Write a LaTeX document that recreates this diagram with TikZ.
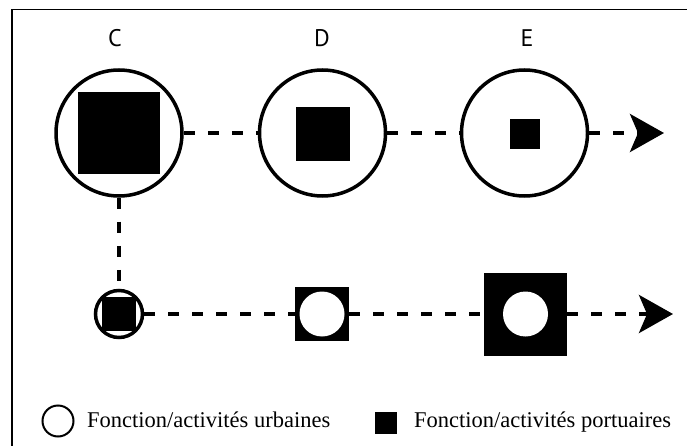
\documentclass[tikz,border=0pt]{standalone}
\usepackage{fontspec}
\setmainfont{Liberation Serif}
\newfontfamily\labfont{PT Sans}
\usetikzlibrary{arrows.meta}
\tikzset{
  bigcirc/.style={circle, draw, line width=3.5pt, minimum size=126pt, inner sep=0pt, fill=white},
  smallcirc/.style={circle, draw, line width=3.5pt, minimum size=47pt, inner sep=0pt},
  blk/.style={rectangle, fill=black, inner sep=0pt, minimum size=#1},
  whitedot/.style={circle, fill=white, inner sep=0pt, minimum size=45pt},
  link/.style={line width=4pt, dash pattern=on 11pt off 13pt},
  arrowlink/.style={link, -{Stealth[length=34pt, width=38pt, inset=8pt]}},
  letter/.style={font=\labfont\fontsize{24}{28}\selectfont, inner sep=0pt},
  legtext/.style={font=\fontsize{22.5}{26}\selectfont, inner sep=0pt, anchor=base west},
}
\begin{document}
\begin{tikzpicture}[x=1pt, y=-1pt]
\useasboundingbox (0,0) rectangle (687,446);
\draw[line width=1.5pt] (12,446) -- (12,9.5) -- (687,9.5);
% labels
\node[letter] (lc) at (115,38) {C};
\node[letter] (ld) at (322,38) {D};
\node[letter] (le) at (527,38) {E};
% top row
\node[bigcirc] (c1) at (119,133) {};
\node[blk=82pt] (s1) at (119,133) {};
\node[bigcirc] (d1) at (322.5,133) {};
\node[blk=54pt] (s2) at (322.5,134) {};
\node[bigcirc] (e1) at (524.5,133) {};
\node[blk=30pt] (s3) at (524.5,134) {};
\coordinate (t1) at (664,133);
\draw[link] (c1) -- (d1);
\draw[link] (d1) -- (e1);
\draw[arrowlink] (e1) -- (t1);
% bottom row
\node[blk=34pt] (s4) at (119,314) {};
\node[smallcirc] (c2) at (119,314) {};
\node[blk=54pt] (s5) at (322,314) {};
\node[whitedot] (w5) at (322,314) {};
\node[blk=83pt] (s6) at (525.5,314) {};
\node[whitedot] (w6) at (525.5,314) {};
\coordinate (t2) at (673,314);
\draw[link] (c1) -- (c2);
\draw[link] (c2) -- (s5);
\draw[link] (s5) -- (s6);
\draw[arrowlink] (s6) -- (t2);
% legend
\node[circle, draw, line width=2pt, minimum size=31pt, inner sep=0pt] (lg1) at (58,421) {};
\node[legtext] (lt1) at (87,427) {Fonction/activités urbaines};
\node[blk=22pt] (lg2) at (386,422.5) {};
\node[legtext] (lt2) at (414,427) {Fonction/activités portuaires};
\end{tikzpicture}
\end{document}
